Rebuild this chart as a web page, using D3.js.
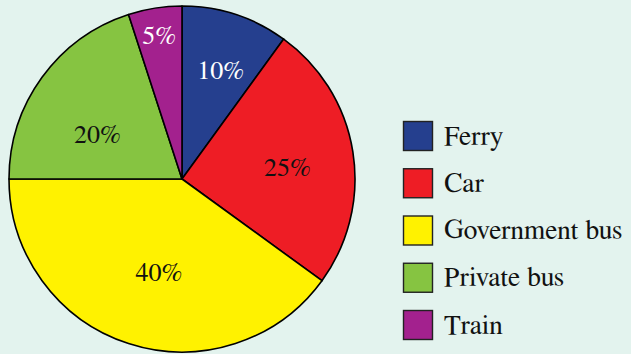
<!DOCTYPE html>
<html>
<head>
<meta charset="utf-8">
<script src="https://cdn.jsdelivr.net/npm/d3@7"></script>
<style>
  html, body { margin: 0; padding: 0; background: #e3f3ee; }
  svg { display: block; }
</style>
</head>
<body>
<svg id="chart" width="631" height="354"></svg>
<script>
// Modes of transport and their share (%)
const categories = ["Ferry", "Car", "Government bus", "Private bus", "Train"];
const shares = [10, 25, 40, 20, 5];
const sliceColors = ["#253f8e", "#ee1d25", "#fff200", "#86c441", "#a3218e"];
const labelColors = ["#ffffff", "#111111", "#111111", "#111111", "#ffffff"];

// Label placement: angle nudge (degrees) from slice middle, and radius fraction
const labelNudge = [1.5, 2.5, -4, -8, 0];
const labelRadius = [0.668, 0.613, 0.554, 0.553, 0.843];

const serif = '"FreeSerif", "Liberation Serif", "Times New Roman", serif';

const svg = d3.select("#chart");
const cx = 182, cy = 179, r = 173;

const pie = d3.pie().sort(null).value(d => d.value);
const data = categories.map((c, i) => ({ name: c, value: shares[i], i }));
const arcs = pie(data);
const arc = d3.arc().innerRadius(0).outerRadius(r);

const g = svg.append("g").attr("transform", `translate(${cx},${cy})`);

g.selectAll("path.slice")
  .data(arcs)
  .join("path")
  .attr("class", "slice")
  .attr("d", arc)
  .attr("fill", d => sliceColors[d.data.i])
  .attr("stroke", "#000")
  .attr("stroke-width", 1.6)
  .attr("stroke-linejoin", "round");

g.selectAll("text.pct")
  .data(arcs)
  .join("text")
  .attr("class", "pct")
  .attr("transform", d => {
    const a = (d.startAngle + d.endAngle) / 2 + labelNudge[d.data.i] * Math.PI / 180;
    const rr = r * labelRadius[d.data.i];
    return `translate(${rr * Math.sin(a)},${-rr * Math.cos(a)})`;
  })
  .attr("text-anchor", "middle")
  .attr("dy", "0.33em")
  .style("font-family", serif)
  .style("font-size", "26px")
  .attr("fill", d => labelColors[d.data.i])
  .text(d => d.data.value + "%");

// Legend
const legend = svg.append("g").attr("transform", "translate(403,121)");
const pitch = 47.25, box = 30;
const items = legend.selectAll("g.item")
  .data(data)
  .join("g")
  .attr("class", "item")
  .attr("transform", d => `translate(0,${d.i * pitch})`);

items.append("rect")
  .attr("x", 0.5).attr("y", 0.5)
  .attr("width", box - 1).attr("height", box - 1)
  .attr("fill", d => sliceColors[d.i])
  .attr("stroke", "#222")
  .attr("stroke-width", 1.4);

items.append("text")
  .attr("x", 41)
  .attr("y", box / 2 + 8.5)
  .style("font-family", serif)
  .style("font-size", "27.5px")
  .attr("fill", "#111")
  .text(d => d.name);
</script>
</body>
</html>
